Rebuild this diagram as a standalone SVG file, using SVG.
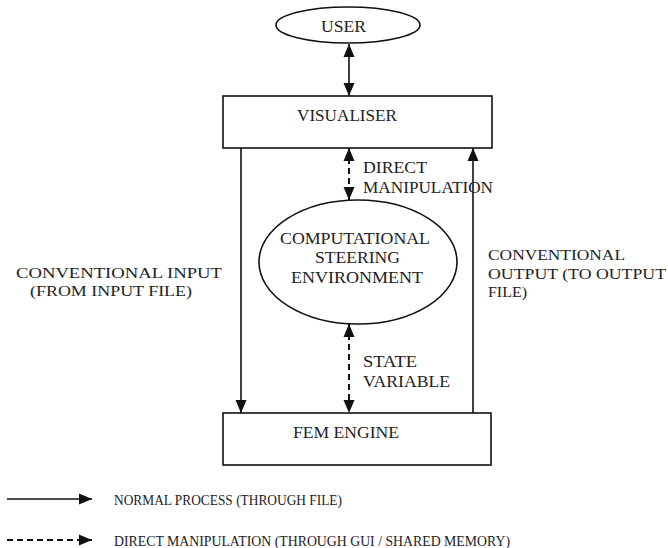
<svg xmlns="http://www.w3.org/2000/svg" width="668" height="548" viewBox="0 0 668 548">
<style>
text{font-family:"Liberation Serif","DejaVu Serif",serif;font-size:16px;fill:#222}
.lg{font-size:15px}
.sm{font-size:15px}
.shape{fill:#fff;stroke:#111;stroke-width:1.6}
.line{fill:none;stroke:#111;stroke-width:1.6}
.dash{fill:none;stroke:#111;stroke-width:2;stroke-dasharray:6 4}
</style>
<defs>
<marker id="ah" markerUnits="userSpaceOnUse" markerWidth="13" markerHeight="12" viewBox="0 0 13 11" refX="13" refY="5.5" orient="auto-start-reverse">
<path d="M0,0 L13,5.5 L0,11 z" fill="#111"/>
</marker>
</defs>
<rect width="668" height="548" fill="#fff"/>
<g id="connectors">
<line class="line" x1="349" y1="44" x2="349" y2="96" marker-start="url(#ah)" marker-end="url(#ah)"/>
<line class="dash" x1="349" y1="148" x2="349" y2="200" marker-start="url(#ah)" marker-end="url(#ah)"/>
<line class="dash" x1="349" y1="324" x2="349" y2="413" marker-start="url(#ah)" marker-end="url(#ah)"/>
<line class="line" x1="241" y1="148" x2="241" y2="413" marker-end="url(#ah)"/>
<line class="line" x1="473" y1="413" x2="473" y2="148" marker-end="url(#ah)"/>
<text x="363" y="173" textLength="64" lengthAdjust="spacingAndGlyphs">DIRECT</text>
<text x="363" y="193" textLength="130" lengthAdjust="spacingAndGlyphs">MANIPULATION</text>
<text x="363" y="367" textLength="54" lengthAdjust="spacingAndGlyphs">STATE</text>
<text x="363" y="387" textLength="87" lengthAdjust="spacingAndGlyphs">VARIABLE</text>
<text class="sm" x="16" y="278" textLength="206" lengthAdjust="spacingAndGlyphs">CONVENTIONAL INPUT</text>
<text class="sm" x="30" y="296" textLength="162" lengthAdjust="spacingAndGlyphs">(FROM INPUT FILE)</text>
<text class="sm" x="488" y="260" textLength="137" lengthAdjust="spacingAndGlyphs">CONVENTIONAL</text>
<text class="sm" x="488" y="279" textLength="178" lengthAdjust="spacingAndGlyphs">OUTPUT (TO OUTPUT</text>
<text class="sm" x="488" y="297" textLength="39" lengthAdjust="spacingAndGlyphs">FILE)</text>
</g>
<g id="user">
<ellipse class="shape" cx="348" cy="25" rx="72" ry="18"/>
<text x="321" y="32" textLength="45" lengthAdjust="spacingAndGlyphs">USER</text>
</g>
<g id="visualiser">
<rect class="shape" x="223" y="96" width="269" height="52"/>
<text x="297" y="121" textLength="100" lengthAdjust="spacingAndGlyphs">VISUALISER</text>
</g>
<g id="cse">
<ellipse class="shape" cx="358" cy="262" rx="99" ry="62"/>
<text x="280" y="244" textLength="150" lengthAdjust="spacingAndGlyphs">COMPUTATIONAL</text>
<text x="315" y="263" textLength="85" lengthAdjust="spacingAndGlyphs">STEERING</text>
<text x="291" y="283" textLength="132" lengthAdjust="spacingAndGlyphs">ENVIRONMENT</text>
</g>
<g id="fem">
<rect class="shape" x="223" y="413" width="268" height="52"/>
<text x="293" y="438" textLength="106" lengthAdjust="spacingAndGlyphs">FEM ENGINE</text>
</g>
<g id="legend">
<line class="line" x1="7" y1="499" x2="92" y2="499" marker-end="url(#ah)"/>
<text class="lg" x="114" y="505" textLength="228" lengthAdjust="spacingAndGlyphs">NORMAL PROCESS (THROUGH FILE)</text>
<line class="dash" x1="7" y1="540" x2="92" y2="540" marker-end="url(#ah)"/>
<text class="lg" x="114" y="546" textLength="396" lengthAdjust="spacingAndGlyphs">DIRECT MANIPULATION (THROUGH GUI / SHARED MEMORY)</text>
</g>
</svg>
